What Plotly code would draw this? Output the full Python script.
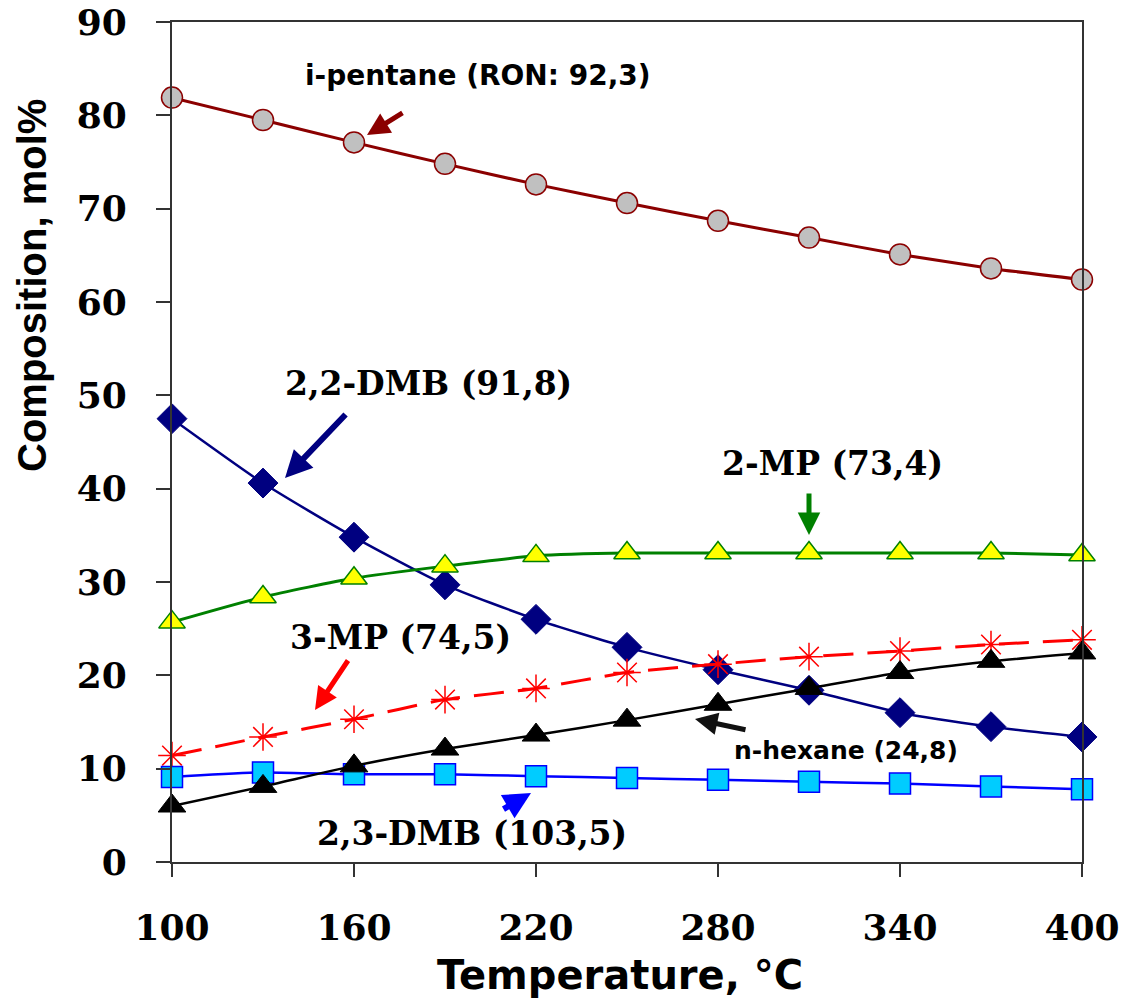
import plotly.graph_objects as go

temperature = [100, 130, 160, 190, 220, 250, 280, 310, 340, 370, 400]
i_pentane = [81.9, 79.5, 77.1, 74.8, 72.6, 70.6, 68.7, 66.9, 65.1, 63.6, 62.4]
dmb22 = [47.5, 40.6, 34.8, 29.7, 26.0, 23.0, 20.6, 18.4, 16.0, 14.5, 13.4]
mp2 = [25.7, 28.4, 30.4, 31.7, 32.8, 33.1, 33.1, 33.1, 33.1, 33.1, 32.9]
mp3 = [11.4, 13.4, 15.3, 17.4, 18.6, 20.3, 21.2, 22.0, 22.6, 23.3, 23.8]
n_hexane = [6.0, 8.1, 10.3, 12.1, 13.6, 15.2, 16.9, 18.6, 20.3, 21.5, 22.4]
dmb23 = [9.1, 9.6, 9.4, 9.4, 9.2, 9.0, 8.8, 8.6, 8.4, 8.1, 7.8]

x_ticks = [100, 160, 220, 280, 340, 400]
y_ticks = [0, 10, 20, 30, 40, 50, 60, 70, 80, 90]

W, H = 1122, 1003
L, R, T, B = 172, 1082, 22, 862

def px(xp):
    return (xp - L) / (R - L)

def py(yp):
    return (B - yp) / (B - T)

fig = go.Figure()

def add(y, line, marker, dash=None):
    fig.add_trace(go.Scatter(
        x=temperature, y=y, mode="lines+markers",
        line=dict(color=line["color"], width=line["width"], shape="spline", smoothing=0.6, dash=dash),
        marker=marker, cliponaxis=False, showlegend=False))

add(i_pentane, dict(color="#8B0000", width=3),
    dict(symbol="circle", size=21, color="#C0C0C0", line=dict(color="#8B0000", width=1.5)))
add(dmb22, dict(color="#000080", width=2.5),
    dict(symbol="diamond", size=23, color="#000080", line=dict(color="#000080", width=1)))
add(mp2, dict(color="#008000", width=3),
    dict(symbol="triangle-up", size=23, color="#FFFF00", line=dict(color="#008000", width=1.5)))
add(mp3, dict(color="#FF0000", width=3),
    dict(symbol="asterisk-open", size=23, color="#FF0000", line=dict(color="#FF0000", width=1.5)),
    dash="30px,14px")
add(dmb23, dict(color="#0000FF", width=2.5),
    dict(symbol="square", size=21, color="#00CCFF", line=dict(color="#0000FF", width=1.5)))
add(n_hexane, dict(color="#000000", width=2.5),
    dict(symbol="triangle-up", size=24, color="#000000", line=dict(color="#000000", width=1)))

serif = dict(family="DejaVu Serif", size=33, color="black", weight="bold")
sans = dict(family="DejaVu Sans", size=28, color="black", weight="bold")

labels = [
    ("i-pentane (RON: 92,3)", 478, 75, sans),
    ("2,2-DMB (91,8)", 428, 383, serif),
    ("2-MP (73,4)", 832, 463, serif),
    ("3-MP (74,5)", 400, 637, serif),
    ("n-hexane (24,8)", 846, 750, dict(sans, size=25)),
    ("2,3-DMB (103,5)", 472, 833, serif),
]
for text, xp, yp, f in labels:
    fig.add_annotation(text=text, x=px(xp), y=py(yp), xref="paper", yref="paper",
                       showarrow=False, font=f, xanchor="center", yanchor="middle")

arrows = [
    (367, 135, 404, 112, "#8B0000", 5),
    (285, 478, 347, 413, "#000080", 6),
    (809, 535, 809, 492, "#008000", 5),
    (315, 710, 349, 659, "#FF0000", 5),
    (695, 719, 747, 730, "#111111", 5),
    (531, 793, 502, 810, "#0000FF", 6),
]
for hx, hy, tx, ty, c, w in arrows:
    fig.add_annotation(text="", x=px(hx), y=py(hy), xref="paper", yref="paper",
                       ax=tx - hx, ay=ty - hy, showarrow=True, arrowhead=2,
                       arrowsize=0.9, arrowwidth=w, arrowcolor=c, standoff=0, startstandoff=0)

fig.add_annotation(text="Composition, mol%", x=px(32), y=py(286), xref="paper", yref="paper",
                   showarrow=False, textangle=-90, xanchor="center", yanchor="middle",
                   font=dict(family="Liberation Sans", size=40, color="black", weight="bold"))
fig.add_annotation(text="Temperature, °C", x=px(620), y=py(975), xref="paper", yref="paper",
                   showarrow=False, xanchor="center", yanchor="middle",
                   font=dict(family="DejaVu Sans", size=40, color="black", weight="bold"))

tickfont = dict(family="DejaVu Serif", size=36, color="black", weight="bold")
fig.update_xaxes(range=[100, 400], tickvals=x_ticks, ticktext=[str(v) for v in x_ticks],
                 showline=True, linecolor="#333333", linewidth=2, mirror=True,
                 ticks="outside", ticklen=13, tickwidth=2, tickcolor="#333333",
                 showgrid=False, zeroline=False, tickfont=tickfont, ticklabelstandoff=20,
                 automargin=False)
fig.update_yaxes(range=[0, 90], tickvals=y_ticks, ticktext=[str(v) for v in y_ticks],
                 showline=True, linecolor="#333333", linewidth=2, mirror=True,
                 ticks="outside", ticklen=14, tickwidth=2, tickcolor="#333333",
                 showgrid=False, zeroline=False, tickfont=tickfont, ticklabelstandoff=22,
                 automargin=False)

fig.update_layout(width=W, height=H, margin=dict(l=L, r=W - R, t=T, b=H - B, pad=0, autoexpand=False),
                  plot_bgcolor="white", paper_bgcolor="white")

fig.write_html("out.html")
